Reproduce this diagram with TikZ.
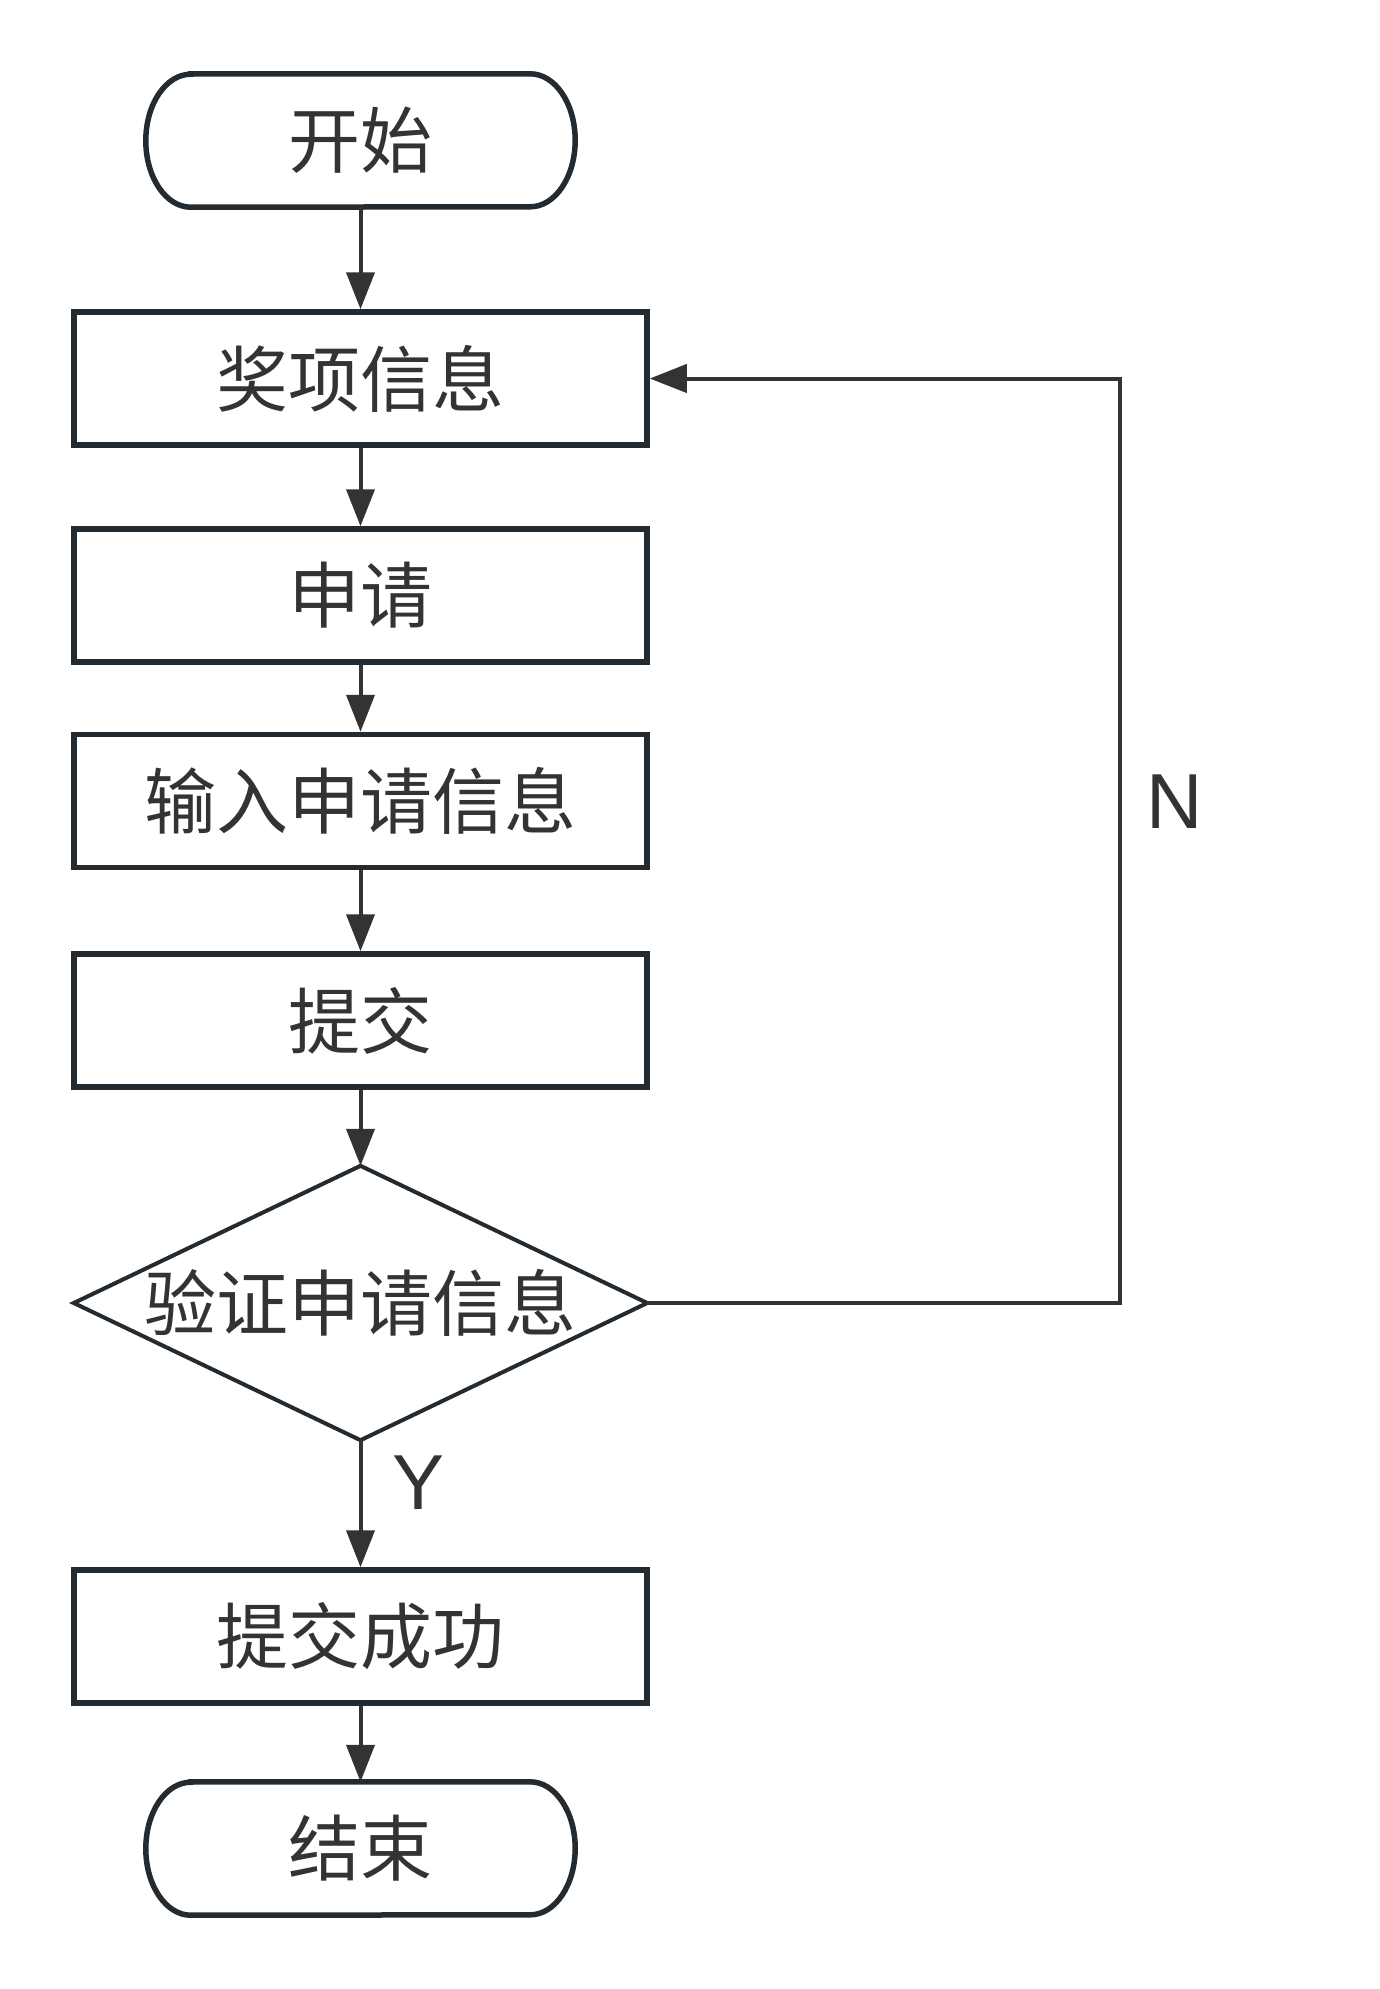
\documentclass[tikz,border=0pt]{standalone}
\usepackage{fontspec}
\setmainfont{Noto Sans CJK SC}
\newfontfamily\latinfont{Liberation Sans}
\usetikzlibrary{arrows.meta}
\definecolor{bordercol}{HTML}{232A30}
\definecolor{linecol}{HTML}{333333}
\definecolor{textcol}{HTML}{333333}
\tikzset{
  x=1pt,y=-1pt,
  procbox/.style={draw=bordercol,line width=5.5pt,fill=white,minimum width=573pt,minimum height=133pt,inner sep=0pt,text=textcol,font=\fontsize{72pt}{80pt}\selectfont},
  termbox/.style={draw=none,minimum width=429pt,minimum height=133pt,inner sep=0pt,text=textcol,font=\fontsize{72pt}{80pt}\selectfont},
  decbox/.style={draw=none,minimum width=573pt,minimum height=274pt,inner sep=0pt,text=textcol,font=\fontsize{72pt}{80pt}\selectfont},
  termline/.style={draw=bordercol,line width=5.5pt},
  conn/.style={draw=linecol,line width=4pt,-{Triangle[length=37pt,width=28pt]}},
  plainconn/.style={draw=linecol,line width=4pt},
  lbl/.style={text=textcol,font=\latinfont\fontsize{78pt}{86pt}\selectfont,inner sep=0pt}
}
\begin{document}
\begin{tikzpicture}
\useasboundingbox[fill=white] (0,0) rectangle (1380,1989);
% terminals
\node[termbox] (s) at (360.5,140.5) {};
\draw[termline] ([xshift=45pt]s.north west) -- ([xshift=-45pt]s.north east)
  arc[start angle=90,end angle=-90,x radius=45pt,y radius=66.5pt]
  -- ([xshift=45pt]s.south west)
  arc[start angle=270,end angle=90,x radius=45pt,y radius=66.5pt] -- cycle;
\node[termbox] at (s.center) {开始};

\node[procbox] (a) at (360.5,378.5) {奖项信息};
\node[procbox] (b) at (360.5,595.5) {申请};
\node[procbox] (c) at (360.5,801) {输入申请信息};
\node[procbox] (d) at (360.5,1020.5) {提交};

\node[decbox] (v) at (360.5,1303) {};
\draw[termline,line width=4pt,line join=miter] (v.north) -- (v.east) -- (v.south) -- (v.west) -- cycle;
\node[decbox] at (v.center) {验证申请信息};

\node[procbox] (f) at (360.5,1636.5) {提交成功};

\node[termbox] (e) at (360.5,1848.5) {};
\draw[termline] ([xshift=45pt]e.north west) -- ([xshift=-45pt]e.north east)
  arc[start angle=90,end angle=-90,x radius=45pt,y radius=66.5pt]
  -- ([xshift=45pt]e.south west)
  arc[start angle=270,end angle=90,x radius=45pt,y radius=66.5pt] -- cycle;
\node[termbox] at (e.center) {结束};

% connectors
\draw[conn] (s.south) -- (a.north);
\draw[conn] (a.south) -- (b.north);
\draw[conn] (b.south) -- (c.north);
\draw[conn] (c.south) -- (d.north);
\draw[conn] (d.south) -- (v.north);
\draw[conn] (v.south) -- (f.north);
\draw[conn] (f.south) -- (e.north);
\coordinate (r1) at (1120,1303);
\coordinate (r2) at (1120,378.5);
\draw[conn,line join=miter] (v.east) -- (r1) -- (r2) -- (a.east);

\node[lbl] (n) at (1175,802) {N};
\node[lbl] (y) at (419,1483) {Y};
\end{tikzpicture}
\end{document}
